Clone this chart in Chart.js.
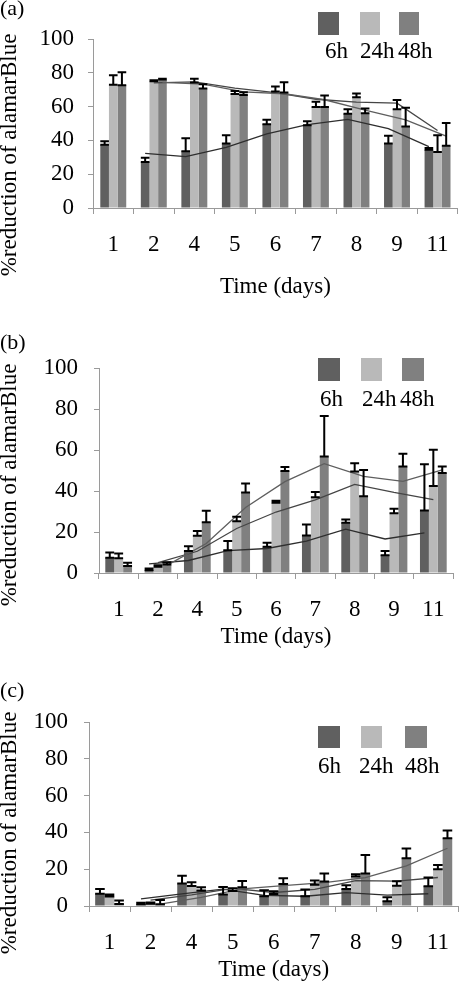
<!DOCTYPE html>
<html><head><meta charset="utf-8">
<script src="https://cdn.jsdelivr.net/npm/chart.js@4/dist/chart.umd.min.js"></script>
<style>
html,body{margin:0;padding:0;background:#fff;}
body{width:466px;height:982px;position:relative;overflow:hidden;}
.p{position:absolute;left:0;width:466px;}
</style></head><body>
<div class="p" style="top:0;height:320px"><canvas id="ca"></canvas></div>
<div class="p" style="top:320px;height:330px"><canvas id="cb"></canvas></div>
<div class="p" style="top:650px;height:332px"><canvas id="cc"></canvas></div>
<script>
// ---------- data ----------
const categories = ['1','2','4','5','6','7','8','9','11'];
const seriesNames = ['6h','24h','48h'];
const yTickMin = 0, yTickMax = 100, yTickStep = 20;
const xTitle = 'Time (days)';
const yTitle = '%reduction of alamarBlue';

// panel (a)
const a6h  = [37.5, 27.2, 33.6, 38.2, 49.6, 49.0, 55.8, 38.1, 34.5];
const a6hErr  = [2.0, 2.5, 7.7, 4.8, 2.6, 2.3, 2.6, 4.7, 1.0];
const a24h = [73.0, 75.0, 74.3, 67.5, 69.0, 59.7, 65.5, 58.5, 33.2];
const a24hErr = [5.5, 0.6, 2.2, 1.7, 2.9, 3.2, 2.2, 5.4, 9.8];
const a48h = [72.7, 76.0, 70.7, 66.8, 68.4, 59.7, 56.0, 48.2, 36.8];
const a48hErr = [7.6, 0.5, 2.5, 1.7, 6.0, 6.8, 2.9, 11.1, 13.5];

// panel (b)
const b6h  = [7.5, 1.5, 10.7, 11.1, 12.8, 18.3, 24.5, 8.7, 30.5];
const b6hErr  = [2.5, 0.7, 2.3, 4.5, 2.0, 5.4, 1.6, 2.0, 22.5];
const b24h = [7.2, 3.0, 18.2, 25.2, 34.3, 37.0, 49.5, 29.1, 42.5];
const b24hErr = [2.3, 0.8, 2.3, 2.2, 1.0, 2.5, 4.0, 2.2, 17.6];
const b48h = [3.4, 4.1, 24.7, 39.3, 49.8, 56.8, 37.5, 51.9, 48.8];
const b48hErr = [1.6, 1.1, 5.7, 4.4, 1.9, 19.8, 12.8, 6.3, 3.1];

// panel (c)
const c6h  = [6.7, 1.0, 12.2, 6.2, 5.3, 5.3, 9.2, 2.6, 10.7];
const c6hErr  = [2.5, 0.8, 4.2, 4.1, 3.2, 3.6, 2.1, 2.2, 4.8];
const c24h = [5.1, 1.2, 10.9, 8.2, 6.5, 11.6, 16.0, 11.0, 20.0];
const c24hErr = [1.2, 0.7, 2.0, 1.4, 1.5, 2.2, 1.3, 2.5, 2.3];
const c48h = [1.1, 1.0, 8.4, 10.2, 12.0, 13.3, 17.6, 26.0, 36.8];
const c48hErr = [1.9, 2.2, 1.8, 3.4, 3.1, 4.3, 10.1, 5.3, 4.2];

// ---------- styles ----------
const barColors = ['#606060', '#b9b9b9', '#808080'];
const trendColors = ['#2e2e2e', '#454545', '#5e5e5e'];
const FONT = '"Liberation Serif", "Times New Roman", serif';
const axisGray = '#9a9a9a';

// Excel-style 2-period moving-average trendline of a series
function movingAvg2(vals){
  const out = [];
  for (let i = 1; i < vals.length; i++) out.push({i, y:(vals[i-1]+vals[i])/2});
  return out;
}

function makePanel(id, P){
  const series = P.series;
  const cp = P.catPct;
  const datasets = series.map((s, k) => ({
    type:'bar', label:seriesNames[k], data:s.v, backgroundColor:barColors[k],
    borderWidth:0, categoryPercentage:cp, barPercentage:1
  }));

  const deco = {
    id:'deco'+id,
    afterDatasetsDraw(chart){
      const ctx = chart.ctx, ys = chart.scales.y;
      ctx.save();
      series.forEach((s, k) => {
        const meta = chart.getDatasetMeta(k);
        const pts = movingAvg2(s.v);
        ctx.strokeStyle = trendColors[k]; ctx.lineWidth = 1.3;
        ctx.beginPath();
        pts.forEach((p, n) => {
          const x = meta.data[p.i].x, y = ys.getPixelForValue(p.y);
          if (n === 0) ctx.moveTo(x, y); else ctx.lineTo(x, y);
        });
        ctx.stroke();
      });
      ctx.strokeStyle = '#000'; ctx.lineWidth = 2;
      series.forEach((s, k) => {
        const meta = chart.getDatasetMeta(k);
        meta.data.forEach((el, j) => {
          const x = el.x, w = el.width;
          const y0 = ys.getPixelForValue(s.v[j]);
          const y1 = ys.getPixelForValue(s.v[j] + s.e[j]);
          ctx.beginPath();
          ctx.moveTo(x, y0); ctx.lineTo(x, y1);
          ctx.moveTo(x - w/2, y0); ctx.lineTo(x + w/2, y0);
          ctx.moveTo(x - w/2, y1); ctx.lineTo(x + w/2, y1);
          ctx.stroke();
        });
      });
      ctx.restore();
    },
    afterDraw(chart){
      const ctx = chart.ctx, ca = chart.chartArea;
      ctx.save();
      ctx.fillStyle = '#000';
      ctx.font = '22px ' + FONT;
      ctx.textBaseline = 'middle';
      ctx.textAlign = 'left';
      ctx.fillText(P.label, 0, P.labelY);
      ctx.font = '23px ' + FONT;
      ctx.textAlign = 'center';
      ctx.fillText(xTitle, (ca.left + ca.right)/2, P.xTitleY);
      ctx.save();
      ctx.translate(10, P.yTitleY);
      ctx.rotate(-Math.PI/2);
      ctx.textAlign = 'center';
      ctx.fillText(yTitle, 0, 0);
      ctx.restore();
      P.legend.boxes.forEach((b, k) => {
        ctx.fillStyle = barColors[k];
        ctx.fillRect(b[0], b[1], b[2], b[3]);
      });
      ctx.fillStyle = '#000';
      ctx.textAlign = 'left';
      P.legend.labels.forEach((lx, k) => ctx.fillText(seriesNames[k], lx, P.legend.labelY));
      ctx.restore();
    }
  };

  return new Chart(document.getElementById(id), {
    type:'bar',
    data:{labels:categories, datasets},
    options:{
      responsive:true, maintainAspectRatio:false, animation:false,
      layout:{padding:{left:0, right:P.padRight, top:P.padTop, bottom:0}},
      plugins:{legend:{display:false}, tooltip:{enabled:false}},
      scales:{
        x:{type:'category', offset:true,
          grid:{offset:true, drawOnChartArea:false, drawTicks:true, tickLength:6, color:axisGray},
          border:{display:true, color:axisGray, width:1},
          ticks:{color:'#000', font:{family:FONT, size:23}, padding:P.xPad, maxRotation:0, autoSkip:false},
          afterFit(s){ s.height = P.xH; }
        },
        y:{type:'linear', min:yTickMin, max:yTickMax,
          grid:{drawOnChartArea:false, drawTicks:true, tickLength:5, color:axisGray},
          border:{display:true, color:axisGray, width:1},
          ticks:{stepSize:yTickStep, color:'#000', font:{family:FONT, size:23}, padding:P.yPad},
          afterFit(s){ s.width = P.yW; }
        }
      }
    },
    plugins:[deco]
  });
}

makePanel('ca', {
  label:'(a)', labelY:9, xTitleY:287, yTitleY:155, catPct:0.64,
  padRight:7, padTop:39, yW:93, xH:112, xPad:17, yPad:14,
  series:[{v:a6h,e:a6hErr},{v:a24h,e:a24hErr},{v:a48h,e:a48hErr}],
  legend:{boxes:[[318,12,21,23],[360,12,20,23],[399,12,20,23]], labels:[325,360,398], labelY:52}
});
makePanel('cb', {
  label:'(b)', labelY:23, xTitleY:317, yTitleY:165, catPct:0.68,
  padRight:13, padTop:48, yW:99, xH:77, xPad:17, yPad:16,
  series:[{v:b6h,e:b6hErr},{v:b24h,e:b24hErr},{v:b48h,e:b48hErr}],
  legend:{boxes:[[318,38,22,23],[361,38,21,23],[402,38,22,23]], labels:[320,362,400], labelY:80}
});
makePanel('cc', {
  label:'(c)', labelY:41, xTitleY:320, yTitleY:183, catPct:0.70,
  padRight:1, padTop:72, yW:89, xH:76, xPad:17, yPad:16,
  series:[{v:c6h,e:c6hErr},{v:c24h,e:c24hErr},{v:c48h,e:c48hErr}],
  legend:{boxes:[[318,76,22,22],[361,76,21,22],[405,76,22,22]], labels:[318,359,405], labelY:117}
});
</script>
</body></html>
